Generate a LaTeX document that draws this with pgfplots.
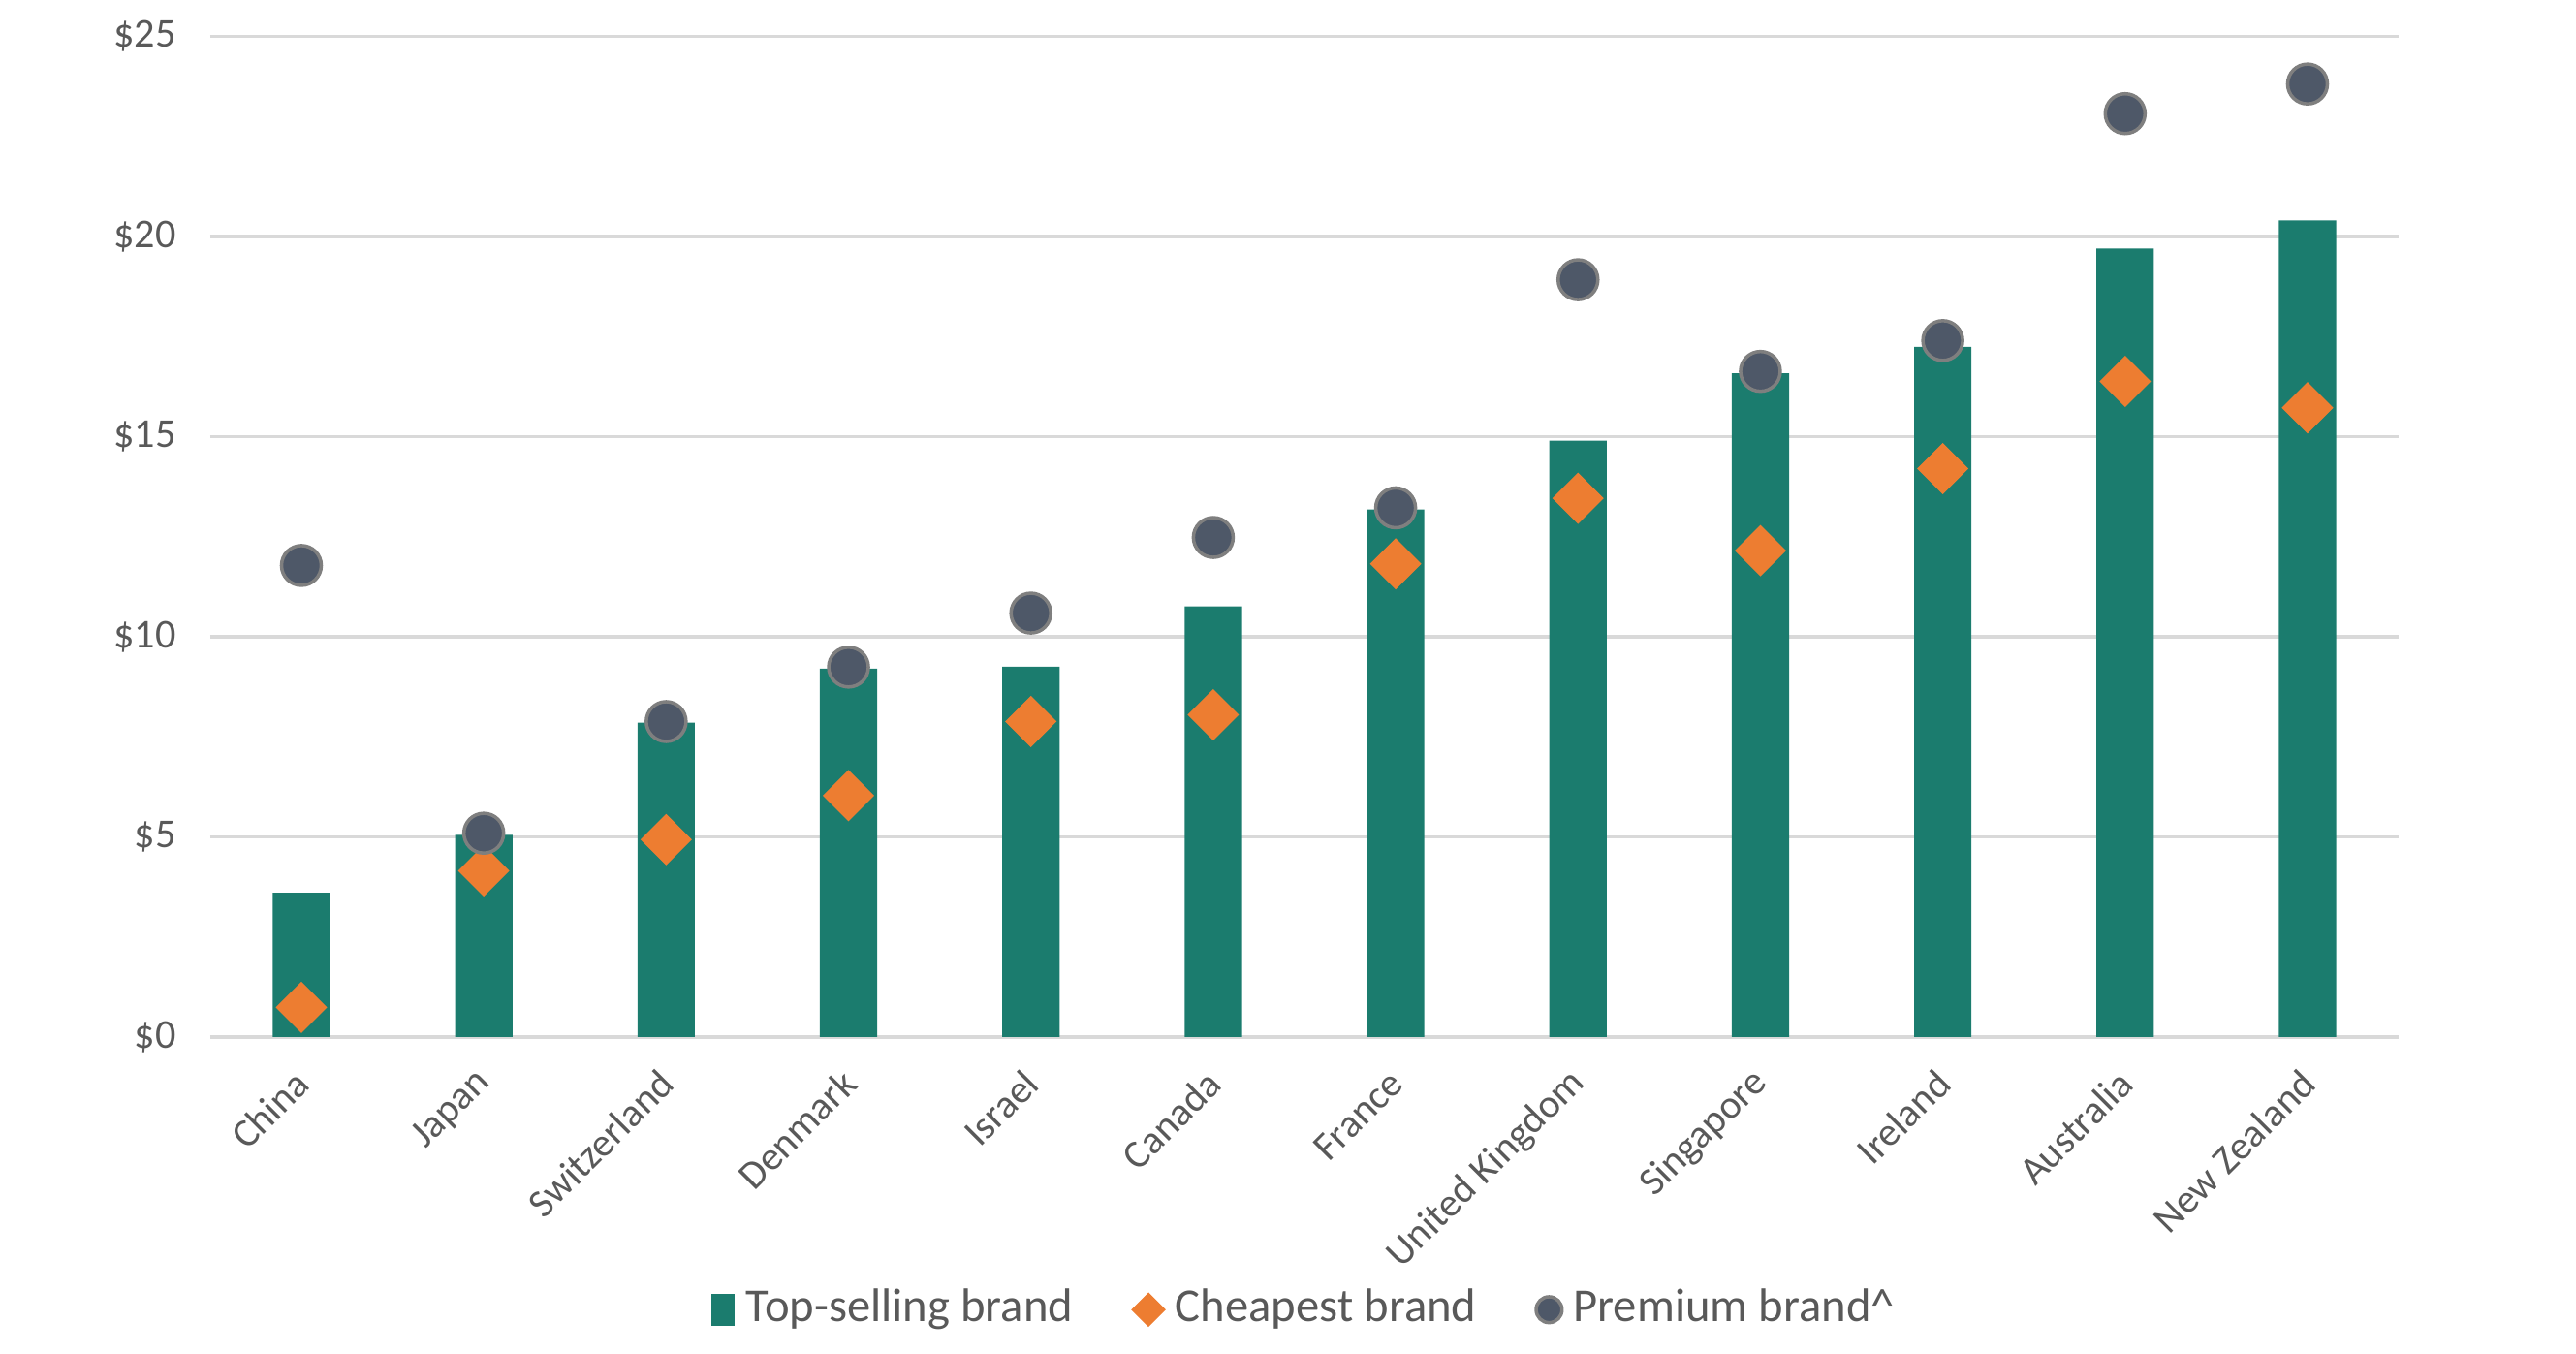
\documentclass[border=0pt]{standalone}
\usepackage{fontspec}
\setmainfont{Carlito}
\usepackage{pgfplots}
\pgfplotsset{compat=1.18}
\usepackage{pgfplotstable}

\definecolor{barteal}{HTML}{1B7C6E}
\definecolor{cheaporange}{HTML}{ED7D31}
\definecolor{premfill}{HTML}{4E5868}
\definecolor{premedge}{HTML}{7F7F7F}
\definecolor{txtgray}{HTML}{595959}
\definecolor{gridgray}{HTML}{D9D9D9}

\pgfplotsset{
    markleg/.style={legend image code/.code={%
        \draw[mark repeat=2, mark phase=2, ##1, every mark/.append style={scale=0.65}]
            plot coordinates {(0pt,0pt) (2.5pt,0pt) (5pt,0pt)};}},
}

% x: category index, top: top-selling, cheap: cheapest, prem: premium
\pgfplotstableread{
x top   cheap prem
0 3.60  0.74  11.78
1 5.05  4.15  5.09
2 7.85  4.93  7.88
3 9.20  6.03  9.24
4 9.25  7.88  10.59
5 10.76 8.05  12.48
6 13.18 11.82 13.22
7 14.90 13.46 18.92
8 16.58 12.15 16.63
9 17.24 14.20 17.40
10 19.70 16.38 23.07
11 20.40 15.72 23.81
}\prices

\begin{document}
\begin{tikzpicture}
\path[use as bounding box] (-37pt,-55.8pt) rectangle (416.4pt,182.5pt);
\begin{axis}[
    at={(0pt,0pt)}, anchor=south west,
    scale only axis,
    width=385.2pt, height=176.1pt,
    xmin=-0.5, xmax=11.5,
    ymin=0, ymax=25,
    axis line style={draw=none},
    major tick length=0pt,
    ymajorgrids,
    major grid style={draw=gridgray, line width=0.6pt},
    ytick={0,5,10,15,20,25},
    /pgf/number format/assume math mode=true,
    yticklabel={\$\pgfmathprintnumber{\tick}},
    yticklabel style={font=\fontsize{7.2}{8}\selectfont, text=txtgray, xshift=-2.5pt},
    xtick={0,...,11},
    xticklabels={China,Japan,Switzerland,Denmark,Israel,Canada,France,United Kingdom,Singapore,Ireland,Australia,New Zealand},
    xticklabel style={font=\fontsize{7.0}{8}\selectfont, text=txtgray, rotate=45, anchor=east, yshift=-5.1pt, xshift=-1.4pt},
    legend style={at={(0.502,-0.2726)}, anchor=center, draw=none, fill=none,
        font=\fontsize{8.3}{10}\selectfont, text=txtgray,
        legend columns=-1,
        /tikz/every even column/.append style={column sep=8.5pt}},
    legend cell align=left,
]
\addplot[ybar, bar width=10.1pt, fill=barteal, draw=none,
    legend image code/.code={\fill[barteal] (0pt,-2.8pt) rectangle (4pt,2.8pt);}]
    table[x=x, y=top] {\prices};
\addlegendentry{Top-selling brand}

\addplot[only marks, mark=square*, mark size=3pt, draw=cheaporange, fill=cheaporange,
    mark options={rotate=45, draw=cheaporange, fill=cheaporange}, markleg]
    table[x=x, y=cheap] {\prices};
\addlegendentry{Cheapest brand}

\addplot[only marks, mark=*, mark size=3.5pt, draw=premedge, fill=premfill,
    line width=0.6pt, markleg]
    table[x=x, y=prem] {\prices};
\addlegendentry{Premium brand\textasciicircum}
\end{axis}
\end{tikzpicture}
\end{document}
